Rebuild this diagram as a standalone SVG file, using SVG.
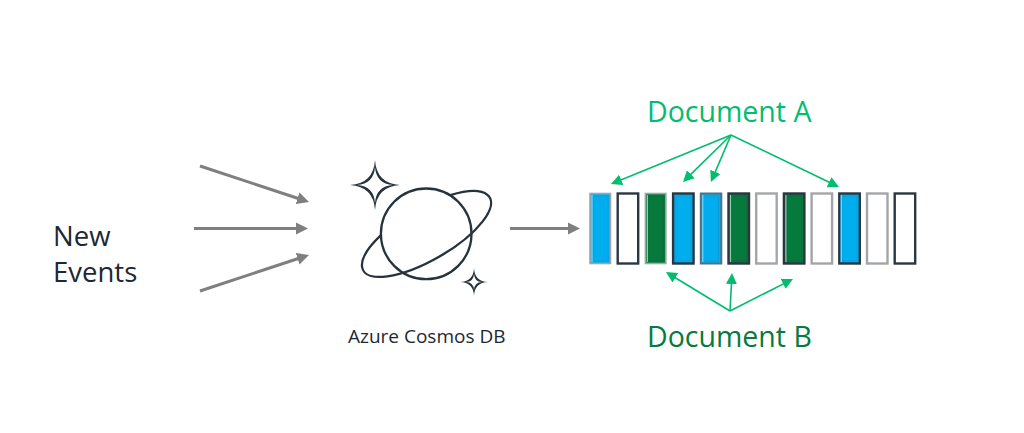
<svg xmlns="http://www.w3.org/2000/svg" width="1024" height="433" viewBox="0 0 1024 433">
<style>
text{font-family:"Open Sans","Noto Sans","Liberation Sans",sans-serif}
.lbl{font-size:27.500px;fill:#1c2833}
.a{font-size:28.500px;fill:#00bd70}
.b{font-size:28.500px;fill:#077a3d}
.cap{font-size:19px;fill:#1c2833}
.g{fill:none;stroke:#7f7f7f;stroke-width:3}
.ga{fill:none;stroke:#00bd70;stroke-width:1.600}
.icon{fill:none;stroke:#26333a;stroke-width:2.300}
.star{fill:#26333a;fill-rule:evenodd}
.gr{stroke:#a3a6a8;stroke-width:2.400}
.dk{stroke:#2b3740;stroke-width:2.400}
.lg{stroke:#a3a6a8;stroke-width:1.600}
.mg{stroke:#4f7387;stroke-width:2}
.w{fill:#fff}.bl{fill:#00aeef}.gn{fill:#067a3c}
.ibl{fill:none;stroke:#0d9dd6;stroke-width:1}
.ign{fill:none;stroke:#0e6b38;stroke-width:1}
.hbl{stroke:#7fd8f8;stroke-width:1.200}
.hgn{stroke:#8fd0ab;stroke-width:1.200}
</style>
<defs>
<marker id="ag" markerUnits="userSpaceOnUse" markerWidth="14" markerHeight="14" refX="4" refY="7" orient="auto"><path d="M0 1L12 7L0 13Z" fill="#7f7f7f"/></marker>
<marker id="gh" markerUnits="userSpaceOnUse" markerWidth="12" markerHeight="12" refX="3" refY="6" orient="auto"><path d="M0 .5L11 6L0 11.500Z" fill="#00bd70"/></marker>
</defs>
<g id="connectors">
<path class="g" marker-end="url(#ag)" d="M200 166L301.400 199.500"/>
<path class="g" marker-end="url(#ag)" d="M194 228.500L300 228.500"/>
<path class="g" marker-end="url(#ag)" d="M200 291L301.400 257.500"/>
<path class="g" marker-end="url(#ag)" d="M510 228.500L572 228.500"/>
<path class="ga" marker-end="url(#gh)" d="M731 135L618.400 181"/>
<path class="ga" marker-end="url(#gh)" d="M731 135L688.700 176.400"/>
<path class="ga" marker-end="url(#gh)" d="M731 135L714.100 174.600"/>
<path class="ga" marker-end="url(#gh)" d="M731 135L831.800 183.500"/>
<path class="ga" marker-end="url(#gh)" d="M730 311L672.800 276.200"/>
<path class="ga" marker-end="url(#gh)" d="M730 311L731.600 281"/>
<path class="ga" marker-end="url(#gh)" d="M730 311L785.900 282.600"/>
</g>
<g id="new-events"><text class="lbl" x="53" y="246">New</text><text class="lbl" x="53" y="282">Events</text></g>
<g id="cosmos">
<circle class="icon" cx="426.200" cy="233.800" r="45.300"/>
<path class="icon" d="M450.300 195.200A73 26 -30 1 1 381 235.200"/>
<path class="star" d="M375 160Q376.500 183.500 400 185Q376.500 186.500 375 210Q373.500 186.500 350 185Q373.500 183.500 375 160ZM375 167Q376.200 183.800 393 185Q376.200 186.200 375 203Q373.800 186.200 357 185Q373.800 183.800 375 167Z"/>
<path class="star" d="M474 268Q474.500 281.500 488 282Q474.500 282.500 474 296Q473.500 282.500 460 282Q473.500 281.500 474 268ZM474 274Q474.300 281.700 482 282Q474.300 282.300 474 290Q473.700 282.300 466 282Q473.700 281.700 474 274Z"/>
<text class="cap" x="348" y="343">Azure Cosmos DB</text>
</g>
<g id="bars">
<g id="bar-1"><rect class="bl lg" x="590" y="193.500" width="20.500" height="70"/><rect class="ibl" x="593" y="196" width="15" height="65"/><path class="hbl" d="M592 195V262"/></g>
<g id="bar-2"><rect class="w dk" x="617.700" y="193.500" width="20.500" height="70"/></g>
<g id="bar-3"><rect class="gn lg" x="645.400" y="193.500" width="20.500" height="70"/><rect class="ign" x="648" y="196" width="15" height="65"/><path class="hgn" d="M647.400 195V262"/></g>
<g id="bar-4"><rect class="bl dk" x="673.100" y="193.500" width="20.500" height="70"/><rect class="ibl" x="676" y="196" width="15" height="65"/></g>
<g id="bar-5"><rect class="bl mg" x="700.800" y="193.500" width="20.500" height="70"/><rect class="ibl" x="703.500" y="196" width="15" height="65"/><path class="hbl" d="M702.800 195V262"/></g>
<g id="bar-6"><rect class="gn dk" x="728.500" y="193.500" width="20.500" height="70"/><rect class="ign" x="731.500" y="196" width="15" height="65"/><path class="hgn" d="M730.500 195V262"/></g>
<g id="bar-7"><rect class="w gr" x="756.200" y="193.500" width="20.500" height="70"/></g>
<g id="bar-8"><rect class="gn dk" x="783.900" y="193.500" width="20.500" height="70"/><rect class="ign" x="787" y="196" width="15" height="65"/><path class="hgn" d="M785.900 195V262"/></g>
<g id="bar-9"><rect class="w gr" x="811.600" y="193.500" width="20.500" height="70"/></g>
<g id="bar-10"><rect class="bl dk" x="839.300" y="193.500" width="20.500" height="70"/><rect class="ibl" x="842" y="196" width="15" height="65"/><path class="hbl" d="M841.300 195V262"/></g>
<g id="bar-11"><rect class="w gr" x="867" y="193.500" width="20.500" height="70"/></g>
<g id="bar-12"><rect class="w dk" x="894.700" y="193.500" width="20.500" height="70"/></g>
</g>
<g id="document-a"><text class="a" x="647" y="122">Document A</text></g>
<g id="document-b"><text class="b" x="647" y="347">Document B</text></g>
</svg>
